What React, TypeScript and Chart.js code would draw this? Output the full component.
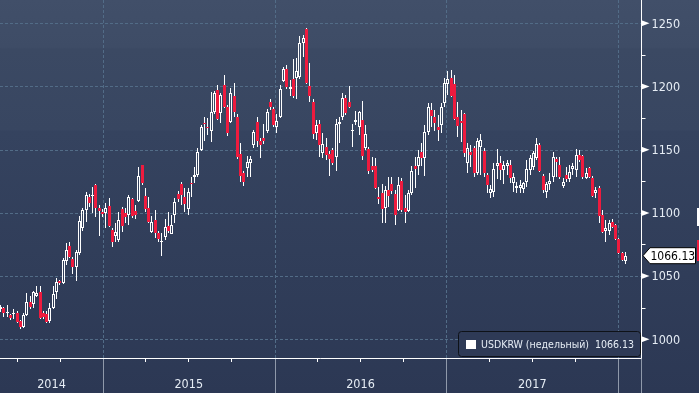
import React, { useEffect, useRef } from 'react';
import { Chart, registerables } from 'chart.js';

Chart.register(...registerables);

// ---- data (weekly USDKRW candles) ----
const opens = [
  1024.0, 1024.5, 1020.6, 1019.1, 1019.9, 1020.9, 1014.5, 1010.0, 1019.0, 1029.8,
  1027.7, 1034.5, 1037.5, 1020.6, 1020.0, 1014.5, 1024.5, 1037.7, 1046.0, 1044.5,
  1062.0, 1073.8, 1063.5, 1057.0, 1068.0, 1088.0, 1102.3, 1112.2, 1113.4, 1122.0,
  1104.2, 1101.0, 1099.7, 1105.7, 1086.5, 1081.7, 1078.6, 1102.8, 1099.7, 1098.3,
  1110.7, 1101.5, 1109.4, 1137.6, 1113.4, 1103.6, 1085.0, 1094.4, 1084.0, 1077.0,
  1081.2, 1090.0, 1083.3, 1098.3, 1115.0, 1122.9, 1112.5, 1103.1, 1123.9, 1128.2,
  1130.0, 1149.8, 1171.4, 1168.2, 1165.0, 1180.1, 1197.2, 1178.8, 1201.2, 1183.5,
  1171.7, 1192.5, 1176.0, 1146.6, 1131.3, 1135.3, 1139.7, 1153.7, 1172.2, 1157.1,
  1159.0, 1164.8, 1188.0, 1182.0, 1168.2, 1176.1, 1204.6, 1213.6, 1197.8, 1205.7,
  1207.0, 1207.8, 1234.7, 1245.3, 1200.4, 1188.0, 1163.5, 1170.3, 1147.6, 1151.9,
  1146.6, 1149.8, 1144.5, 1170.3, 1176.1, 1191.1, 1188.0, 1165.0, 1171.9, 1168.2,
  1173.5, 1151.1, 1150.3, 1137.1, 1137.1, 1112.8, 1115.5, 1103.6, 1118.1, 1122.9,
  1115.0, 1102.3, 1125.5, 1103.6, 1101.8, 1115.5, 1137.1, 1137.1, 1148.4, 1143.2,
  1164.2, 1181.4, 1176.1, 1168.2, 1169.5, 1186.7, 1202.0, 1206.5, 1202.0, 1176.1,
  1172.7, 1178.2, 1139.2, 1148.2, 1151.6, 1131.3, 1152.4, 1149.2, 1130.0, 1116.0,
  1116.8, 1137.1, 1139.2, 1133.9, 1137.1, 1137.9, 1123.9, 1119.5, 1119.5, 1118.7,
  1124.7, 1134.0, 1136.0, 1143.2, 1153.7, 1129.2, 1116.8, 1122.9, 1128.6, 1143.0,
  1137.9, 1121.3, 1130.0, 1126.6, 1134.5, 1134.0, 1145.8, 1145.0, 1127.4, 1135.3,
  1127.4, 1116.0, 1119.5, 1098.3, 1085.9, 1085.9, 1093.1, 1090.4, 1079.1, 1068.0,
  1062.2,
];
const highs = [
  1027.1, 1025.5, 1027.0, 1020.0, 1023.7, 1022.0, 1015.0, 1020.5, 1036.4, 1034.0,
  1038.0, 1042.0, 1042.0, 1022.0, 1022.0, 1028.5, 1042.0, 1048.3, 1047.0, 1064.5,
  1076.0, 1077.0, 1065.0, 1071.0, 1097.6, 1104.0, 1116.8, 1115.0, 1120.3, 1123.0,
  1106.0, 1103.0, 1108.0, 1111.5, 1088.0, 1091.8, 1101.0, 1105.0, 1104.0, 1114.0,
  1112.0, 1106.3, 1136.6, 1138.0, 1119.5, 1112.8, 1097.6, 1102.3, 1086.0, 1084.0,
  1095.2, 1101.0, 1098.3, 1111.5, 1117.0, 1124.7, 1119.5, 1119.5, 1128.2, 1136.6,
  1151.0, 1169.5, 1175.6, 1174.8, 1196.0, 1196.5, 1201.2, 1195.1, 1209.0, 1185.0,
  1198.6, 1203.0, 1178.0, 1155.0, 1133.0, 1145.0, 1145.0, 1165.6, 1176.1, 1159.0,
  1170.3, 1182.0, 1190.0, 1183.5, 1178.2, 1201.0, 1215.7, 1217.0, 1205.1, 1221.5,
  1222.3, 1240.0, 1240.7, 1246.0, 1218.4, 1190.0, 1173.5, 1173.5, 1163.0, 1159.0,
  1149.0, 1151.0, 1174.0, 1176.1, 1194.6, 1193.3, 1200.4, 1170.0, 1180.9, 1180.6,
  1188.5, 1169.5, 1152.0, 1144.0, 1143.2, 1120.8, 1122.9, 1121.3, 1128.7, 1128.7,
  1118.1, 1128.2, 1127.4, 1114.2, 1118.1, 1137.1, 1144.5, 1149.8, 1155.5, 1169.5,
  1187.2, 1187.2, 1181.4, 1177.5, 1186.7, 1206.5, 1212.5, 1213.0, 1209.0, 1188.0,
  1181.4, 1178.8, 1155.0, 1153.7, 1153.0, 1159.0, 1162.4, 1151.1, 1131.3, 1122.1,
  1139.2, 1150.3, 1145.0, 1141.0, 1141.9, 1141.9, 1131.3, 1124.7, 1126.0, 1124.7,
  1141.9, 1145.8, 1149.0, 1159.0, 1155.0, 1130.5, 1124.7, 1131.3, 1148.4, 1144.5,
  1144.0, 1127.4, 1136.6, 1137.9, 1139.2, 1150.3, 1150.0, 1146.0, 1135.3, 1136.0,
  1129.0, 1120.8, 1121.0, 1102.3, 1094.4, 1094.4, 1095.0, 1091.0, 1080.0, 1069.0,
  1069.3,
];
const lows = [
  1021.8, 1018.0, 1018.0, 1015.5, 1015.8, 1013.0, 1008.5, 1009.0, 1018.4, 1024.0,
  1024.5, 1033.5, 1016.0, 1016.0, 1012.7, 1013.0, 1024.0, 1031.7, 1043.0, 1044.0,
  1059.0, 1064.0, 1052.0, 1046.5, 1067.0, 1086.0, 1093.0, 1105.0, 1100.0, 1097.0,
  1082.0, 1097.0, 1088.0, 1089.0, 1073.3, 1077.2, 1077.0, 1085.0, 1092.0, 1090.5,
  1095.7, 1095.0, 1108.9, 1122.0, 1101.0, 1091.8, 1084.0, 1080.0, 1077.2, 1066.0,
  1078.6, 1084.4, 1083.0, 1091.8, 1109.0, 1106.3, 1101.0, 1098.3, 1112.8, 1123.4,
  1128.7, 1149.2, 1157.1, 1161.6, 1156.3, 1178.0, 1173.5, 1170.9, 1182.8, 1161.0,
  1170.9, 1176.0, 1143.0, 1124.7, 1121.5, 1128.7, 1128.7, 1151.1, 1152.4, 1143.2,
  1154.5, 1163.0, 1181.4, 1168.2, 1163.5, 1175.0, 1203.8, 1198.0, 1192.5, 1190.7,
  1190.1, 1205.7, 1223.6, 1202.0, 1188.0, 1158.2, 1157.7, 1144.0, 1143.2, 1141.9,
  1129.2, 1138.0, 1133.4, 1155.0, 1173.5, 1177.5, 1182.8, 1152.4, 1169.5, 1161.6,
  1141.9, 1149.8, 1130.8, 1132.0, 1119.0, 1107.1, 1092.3, 1092.3, 1104.9, 1115.0,
  1090.4, 1101.8, 1101.0, 1092.3, 1101.0, 1114.2, 1120.0, 1130.0, 1137.1, 1129.2,
  1161.6, 1168.2, 1165.0, 1156.9, 1163.0, 1184.0, 1193.3, 1191.5, 1173.5, 1160.3,
  1156.3, 1144.5, 1131.3, 1136.6, 1128.2, 1130.0, 1130.0, 1128.7, 1115.5, 1111.5,
  1112.8, 1126.6, 1126.0, 1122.9, 1130.0, 1123.4, 1116.8, 1115.5, 1116.0, 1115.5,
  1120.8, 1130.0, 1134.0, 1141.9, 1132.0, 1116.0, 1111.5, 1118.1, 1124.7, 1128.6,
  1127.0, 1119.5, 1124.7, 1124.7, 1130.0, 1128.7, 1140.0, 1127.0, 1126.6, 1127.4,
  1112.4, 1111.5, 1091.8, 1084.0, 1077.2, 1082.5, 1088.0, 1078.6, 1067.5, 1062.0,
  1059.6,
];
const closes = [
  1025.8, 1020.6, 1021.8, 1017.0, 1020.9, 1014.0, 1009.5, 1019.2, 1029.3, 1025.8,
  1037.2, 1036.4, 1016.6, 1017.6, 1014.0, 1025.0, 1035.7, 1045.5, 1044.3, 1062.7,
  1070.7, 1065.4, 1057.4, 1069.0, 1093.7, 1102.0, 1114.2, 1108.1, 1114.5, 1103.6,
  1101.6, 1099.0, 1103.6, 1089.6, 1077.2, 1084.9, 1094.4, 1090.0, 1097.0, 1112.8,
  1097.8, 1098.3, 1129.2, 1123.4, 1103.1, 1092.6, 1093.0, 1083.9, 1079.3, 1077.8,
  1088.6, 1086.0, 1090.4, 1108.9, 1110.7, 1114.2, 1107.1, 1116.3, 1122.9, 1130.0,
  1148.4, 1168.2, 1170.3, 1167.4, 1180.0, 1195.1, 1174.0, 1193.3, 1183.5, 1163.0,
  1194.6, 1180.0, 1144.5, 1129.2, 1124.7, 1140.5, 1142.4, 1164.2, 1157.1, 1153.5,
  1157.1, 1180.0, 1183.5, 1169.5, 1173.0, 1197.8, 1213.6, 1199.8, 1199.8, 1192.5,
  1212.5, 1234.7, 1238.1, 1203.0, 1192.5, 1162.4, 1169.5, 1153.7, 1154.5, 1145.8,
  1142.4, 1139.3, 1170.3, 1172.2, 1191.1, 1178.8, 1183.5, 1165.6, 1173.5, 1179.8,
  1145.3, 1162.4, 1133.4, 1134.0, 1120.0, 1110.8, 1103.1, 1118.1, 1113.4, 1117.3,
  1098.3, 1122.1, 1102.3, 1101.0, 1115.5, 1133.2, 1134.7, 1144.5, 1143.7, 1164.2,
  1184.0, 1176.7, 1171.4, 1165.6, 1184.0, 1203.0, 1205.7, 1192.5, 1174.0, 1168.7,
  1170.9, 1147.6, 1151.1, 1145.8, 1131.3, 1157.1, 1157.7, 1131.3, 1122.1, 1118.9,
  1134.5, 1139.7, 1133.9, 1137.7, 1139.7, 1127.4, 1128.2, 1121.3, 1122.1, 1123.9,
  1134.5, 1143.2, 1147.0, 1154.5, 1133.4, 1118.1, 1122.9, 1125.5, 1144.0, 1140.5,
  1128.6, 1124.2, 1126.6, 1132.6, 1137.1, 1145.8, 1142.0, 1128.6, 1131.8, 1128.0,
  1113.4, 1118.1, 1097.6, 1085.1, 1087.8, 1092.3, 1089.1, 1079.1, 1068.0, 1062.7,
  1066.13,
];

// x positions are weeks counted from 1 Jan 2014; first candle is week 21
const FIRST_WEEK = 21;
const weeks = closes.map((_, i) => FIRST_WEEK + i);

const yearLabels = ['2014', '2015', '2016', '2017', '2018'];
const yearStarts = [0, 52.14, 104.29, 156.57, 208.71];
const quarterTicks = [25.86, 39.0, 65.0, 78.0, 91.14, 117.29, 130.29, 143.43, 169.43, 182.43, 195.57];
const priceTicks = [1000, 1050, 1100, 1150, 1200, 1250];
const minorPriceTicks = [1025, 1075, 1125, 1175, 1225];
const seriesName = 'USDKRW (недельный)';

const X_MIN = 20.82;
const X_MAX = 215.71;
const Y_MIN = 985.2;
const Y_MAX = 1268.4;

const FONT = '"DejaVu Sans Condensed", "DejaVu Sans", sans-serif';
const RED = '#ee1b3e';
const GRID = '#526c87';
const TEXT = '#e6edf5';

const fmt = (v: number) => v.toFixed(2);

const backgroundPlugin = {
  id: 'bgPlugin',
  beforeDraw(chart: any) {
    const { ctx, width, height } = chart;
    const g = ctx.createLinearGradient(0, 0, 0, height);
    g.addColorStop(0, '#414f69');
    g.addColorStop(0.12, '#3e4c66');
    g.addColorStop(0.125, '#3b4963');
    g.addColorStop(0.33, '#384661');
    g.addColorStop(0.335, '#35435f');
    g.addColorStop(1, '#2c3854');
    ctx.save();
    ctx.fillStyle = g;
    ctx.fillRect(0, 0, width, height);
    ctx.restore();
  },
  beforeDatasetsDraw(chart: any) {
    const { ctx, chartArea, scales } = chart;
    const xs = scales.x;
    const ys = scales.y;
    // snap the library's bar elements to whole pixels so candles are crisp
    chart.data.datasets.forEach((_: any, di: number) => {
      const meta = chart.getDatasetMeta(di);
      meta.data.forEach((el: any) => {
        el.x = Math.floor(el.x) + 0.5;
        const y = Math.round(el.y);
        let base = Math.round(el.base);
        if (di >= 2 && y === base) base = y + 1;
        el.y = y;
        el.base = base;
      });
    });
    ctx.save();
    ctx.strokeStyle = GRID;
    ctx.lineWidth = 1;
    ctx.setLineDash([3, 2]);
    priceTicks.forEach((v) => {
      const y = Math.round(ys.getPixelForValue(v)) + 0.5;
      ctx.beginPath();
      ctx.moveTo(chartArea.left, y);
      ctx.lineTo(chartArea.right, y);
      ctx.stroke();
    });
    yearStarts.forEach((w) => {
      if (w <= X_MIN || w >= X_MAX) return;
      const x = Math.round(xs.getPixelForValue(w)) + 0.5;
      ctx.beginPath();
      ctx.moveTo(x, chartArea.top);
      ctx.lineTo(x, chartArea.bottom);
      ctx.stroke();
    });
    ctx.restore();
  },
};

const axesPlugin = {
  id: 'axesPlugin',
  afterDatasetsDraw(chart: any) {
    const { ctx, chartArea, scales, width, height } = chart;
    const xs = scales.x;
    const ys = scales.y;
    const R = Math.round(chartArea.right) + 0.5;
    const B = Math.round(chartArea.bottom) + 0.5;
    ctx.save();

    // x axis: year boundary lines below axis, quarter ticks
    ctx.strokeStyle = '#8f99aa';
    ctx.lineWidth = 1;
    yearStarts.forEach((w) => {
      if (w <= X_MIN || w >= X_MAX) return;
      const x = Math.round(xs.getPixelForValue(w)) + 0.5;
      ctx.beginPath();
      ctx.moveTo(x, B);
      ctx.lineTo(x, height);
      ctx.stroke();
    });
    ctx.beginPath();
    ctx.moveTo(R, B);
    ctx.lineTo(R, height);
    ctx.stroke();

    ctx.strokeStyle = '#ffffff';
    quarterTicks.forEach((w) => {
      const x = Math.round(xs.getPixelForValue(w)) + 0.5;
      ctx.beginPath();
      ctx.moveTo(x, B);
      ctx.lineTo(x, B + 3.5);
      ctx.stroke();
    });

    // axis lines
    ctx.beginPath();
    ctx.moveTo(chartArea.left, B);
    ctx.lineTo(R, B);
    ctx.moveTo(R, chartArea.top);
    ctx.lineTo(R, B);
    ctx.stroke();

    // year labels centered in visible span of each year
    ctx.fillStyle = TEXT;
    ctx.font = `12.5px ${FONT}`;
    ctx.textAlign = 'center';
    ctx.textBaseline = 'middle';
    yearLabels.forEach((lab, i) => {
      const a = Math.max(yearStarts[i], X_MIN);
      const b = Math.min(i + 1 < yearStarts.length ? yearStarts[i + 1] : X_MAX, X_MAX);
      const pa = xs.getPixelForValue(a);
      const pb = xs.getPixelForValue(b);
      if (pb - pa < 40) return;
      ctx.fillText(lab, (pa + pb) / 2, B + 26);
    });

    // y axis minor ticks
    ctx.strokeStyle = '#ffffff';
    minorPriceTicks.forEach((v) => {
      const y = Math.round(ys.getPixelForValue(v)) + 0.5;
      ctx.beginPath();
      ctx.moveTo(R, y);
      ctx.lineTo(R + 4, y);
      ctx.stroke();
    });
    // major ticks: small triangles + labels
    ctx.textAlign = 'left';
    priceTicks.forEach((v) => {
      const y = ys.getPixelForValue(v);
      ctx.fillStyle = '#ffffff';
      ctx.beginPath();
      ctx.moveTo(R, y - 3);
      ctx.lineTo(R + 8, y);
      ctx.lineTo(R, y + 3);
      ctx.closePath();
      ctx.fill();
      ctx.fillStyle = TEXT;
      ctx.fillText(String(v), R + 10, y + 1);
    });

    // cut-off tags at the right edge
    ctx.fillStyle = '#ffffff';
    ctx.fillRect(width - 2, 208, 2, 18);
    ctx.fillStyle = RED;
    ctx.fillRect(width - 2, 240, 2, 21);

    // last price tag
    const last = closes[closes.length - 1];
    const ly = ys.getPixelForValue(last);
    ctx.beginPath();
    ctx.moveTo(R + 1.5, ly);
    ctx.lineTo(R + 8.5, ly - 8);
    ctx.lineTo(width - 3.5, ly - 8);
    ctx.lineTo(width - 3.5, ly + 8);
    ctx.lineTo(R + 8.5, ly + 8);
    ctx.closePath();
    ctx.fillStyle = '#ffffff';
    ctx.fill();
    ctx.strokeStyle = '#000000';
    ctx.stroke();
    ctx.fillStyle = '#000000';
    ctx.font = `12px ${FONT}`;
    ctx.fillText(fmt(last), R + 9, ly + 1);

    // legend box
    const lx = 458.5, ly2 = 331.5, lw = 182, lh = 25;
    ctx.beginPath();
    ctx.roundRect(lx, ly2, lw, lh, 3);
    ctx.fillStyle = '#2e3a56';
    ctx.fill();
    ctx.strokeStyle = '#0e1218';
    ctx.stroke();
    ctx.fillStyle = '#ffffff';
    ctx.fillRect(466, 340, 10, 9);
    ctx.fillStyle = TEXT;
    ctx.font = `10.5px ${FONT}`;
    ctx.textAlign = 'left';
    ctx.fillText(seriesName, 481, 345);
    ctx.textAlign = 'right';
    ctx.fillText(fmt(last), 634, 345);

    ctx.restore();
  },
};

export default function App() {
  const ref = useRef<HTMLCanvasElement | null>(null);
  useEffect(() => {
    document.body.style.margin = '0';
    if (!ref.current) return;
    const wickHigh = weeks.map((w, i) => ({ x: w, y: [Math.max(opens[i], closes[i]), highs[i]] }));
    const wickLow = weeks.map((w, i) => ({ x: w, y: [lows[i], Math.min(opens[i], closes[i])] }));
    const up = weeks
      .map((w, i) => ({ x: w, y: [opens[i], closes[i]], up: closes[i] >= opens[i] }))
      .filter((d) => d.up)
      .map((d) => ({ x: d.x, y: d.y }));
    const down = weeks
      .map((w, i) => ({ x: w, y: [closes[i], opens[i]], down: closes[i] < opens[i] }))
      .filter((d) => d.down)
      .map((d) => ({ x: d.x, y: d.y }));

    const common = { grouped: false, borderSkipped: false, inflateAmount: 0 };
    const chart = new Chart(ref.current, {
      type: 'bar',
      data: {
        datasets: [
          { ...common, label: 'hi', data: wickHigh, backgroundColor: '#ffffff', borderWidth: 0, barThickness: 1 },
          { ...common, label: 'lo', data: wickLow, backgroundColor: '#ffffff', borderWidth: 0, barThickness: 1 },
          { ...common, label: 'up', data: up, backgroundColor: 'rgba(0,0,0,0)', borderColor: '#ffffff', borderWidth: 1, barThickness: 3 },
          { ...common, label: 'down', data: down, backgroundColor: RED, borderWidth: 0, barThickness: 3 },
        ] as any,
      },
      options: {
        responsive: false,
        animation: false,
        events: [],
        layout: { padding: { left: 0, top: 0, right: 58, bottom: 35 } },
        plugins: { legend: { display: false }, tooltip: { enabled: false } },
        scales: {
          x: { type: 'linear', min: X_MIN, max: X_MAX, display: false, offset: false },
          y: { type: 'linear', min: Y_MIN, max: Y_MAX, display: false, beginAtZero: false },
        },
      } as any,
      plugins: [backgroundPlugin, axesPlugin],
    });
    return () => chart.destroy();
  }, []);
  return (
    <div style={{ position: 'fixed', left: 0, top: 0, width: 699, height: 393 }}>
      <canvas ref={ref} width={699} height={393} style={{ display: 'block' }} />
    </div>
  );
}
